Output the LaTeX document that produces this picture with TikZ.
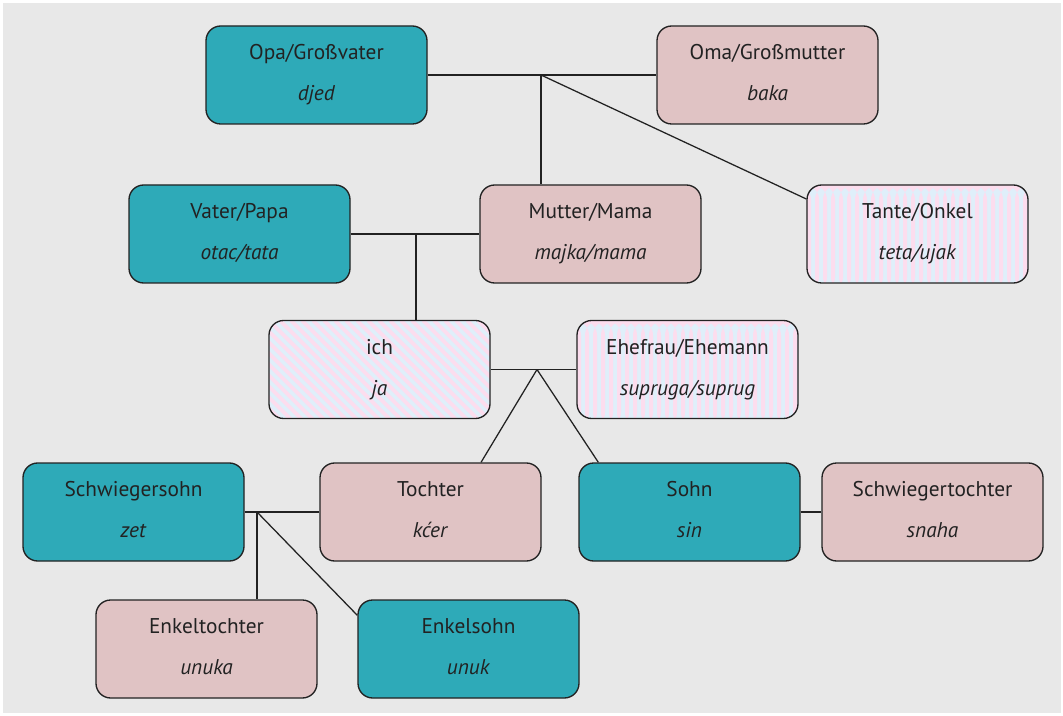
\documentclass[tikz,border=0pt]{standalone}
\usepackage{fontspec}
\setmainfont{PT Sans}
\definecolor{bg}{HTML}{E8E8E8}
\definecolor{mteal}{HTML}{2EAAB8}
\definecolor{mpink}{HTML}{E0C3C4}
\definecolor{sblue}{HTML}{DFEFFA}
\definecolor{spink}{HTML}{FCDDEE}
\definecolor{ink}{HTML}{222222}
\newcommand{\twolines}[2]{\strut #1\\[11.75pt]\strut\textit{#2}}
\begin{document}
\begin{tikzpicture}[x=0.75pt,y=-0.75pt,
  box/.style={draw=ink, line width=1pt, rounded corners=11pt,
    minimum width=165.75pt, minimum height=73.5pt, inner sep=0pt,
    align=center, font=\fontsize{16}{19}\selectfont, text=ink},
  male/.style={box, fill=mteal},
  female/.style={box, fill=mpink},
  vstripe/.style={box, fill=sblue, path picture={
    \foreach \i in {0,...,28}{\fill[spink] ([xshift=\i*6pt]path picture bounding box.north west) rectangle ++(3pt,-80pt);}}},
  dstripe/.style={box, fill=sblue, path picture={
    \foreach \i in {-10,...,22}{\draw[spink, line width=2.9pt] ([xshift=\i*8.25pt]path picture bounding box.north west) -- ++(80pt,-80pt);}}},
  conn/.style={draw=ink, line width=0.95pt}
]
\useasboundingbox (0,0) rectangle (1063,716);
\fill[bg] (3,3) rectangle (1061,713);

\node[male]    (opa)   at (316.5,75)   {\twolines{Opa/Großvater}{djed}};
\node[female]  (oma)   at (767.5,75)   {\twolines{Oma/Großmutter}{baka}};
\node[male]    (vater) at (239.5,234)  {\twolines{Vater/Papa}{otac/tata}};
\node[female]  (mutter) at (590.5,234) {\twolines{Mutter/Mama}{majka/mama}};
\node[vstripe] (tante) at (917.5,234)  {\twolines{Tante/Onkel}{teta/ujak}};
\node[dstripe] (ich)   at (379.5,369.5) {\twolines{ich}{ja}};
\node[vstripe] (ehe)   at (687.5,369.5) {\twolines{Ehefrau/Ehemann}{supruga/suprug}};
\node[male]    (schws) at (133.5,512)  {\twolines{Schwiegersohn}{zet}};
\node[female]  (tochter) at (430.5,512) {\twolines{Tochter}{kćer}};
\node[male]    (sohn)  at (689.5,512)  {\twolines{Sohn}{sin}};
\node[female]  (schwt) at (932.5,512)  {\twolines{Schwiegertochter}{snaha}};
\node[female]  (enkelt) at (206.5,649) {\twolines{Enkeltochter}{unuka}};
\node[male]    (enkels) at (468.5,649) {\twolines{Enkelsohn}{unuk}};

\coordinate (j1) at (541,75);
\coordinate (j2) at (416,234);
\coordinate (j3) at (537,369.5);
\coordinate (j4) at (257,512);

\draw[conn] (opa.east) -- (oma.west);
\draw[conn] (j1) -- (j1 |- mutter.north);
\draw[conn] (j1) -- ([yshift=-11pt]tante.north west);
\draw[conn] (vater.east) -- (mutter.west);
\draw[conn] (j2) -- (j2 |- ich.north);
\draw[conn] (ich.east) -- (ehe.west);
\draw[conn] (j3) -- ([xshift=37.9pt]tochter.north);
\draw[conn] (j3) -- ([xshift=15pt]sohn.north west);
\draw[conn] (schws.east) -- (tochter.west);
\draw[conn] (j4) -- (j4 |- enkelt.north);
\draw[conn] (j4) -- ([yshift=-12pt]enkels.north west);
\draw[conn] (sohn.east) -- (schwt.west);
\end{tikzpicture}
\end{document}
